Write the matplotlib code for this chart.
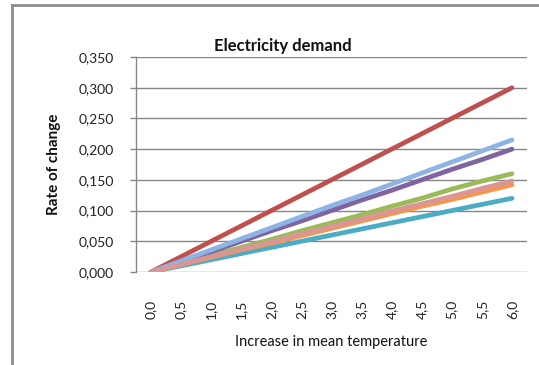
import matplotlib
matplotlib.use("Agg")
import matplotlib.pyplot as plt
from matplotlib.lines import Line2D

plt.rcParams['font.family'] = ['Lato', 'DejaVu Sans']

# Temperature increase categories (°C steps)
temperature = ["0,0", "0,5", "1,0", "1,5", "2,0", "2,5", "3,0",
               "3,5", "4,0", "4,5", "5,0", "5,5", "6,0"]

# Rate of change of electricity demand for each scenario
series_red = [0.000, 0.025, 0.050, 0.075, 0.100, 0.125, 0.150,
              0.175, 0.200, 0.225, 0.250, 0.275, 0.300]
series_green = [0.000, 0.013, 0.027, 0.040, 0.053, 0.067, 0.080,
                0.093, 0.107, 0.120, 0.135, 0.148, 0.160]
series_purple = [0.000, 0.017, 0.033, 0.050, 0.067, 0.083, 0.100,
                 0.117, 0.133, 0.150, 0.167, 0.183, 0.200]
series_teal = [0.000, 0.010, 0.020, 0.030, 0.040, 0.050, 0.060,
               0.070, 0.080, 0.090, 0.100, 0.110, 0.120]
series_orange = [0.000, 0.012, 0.024, 0.036, 0.047, 0.059, 0.071,
                 0.083, 0.095, 0.107, 0.118, 0.130, 0.142]
series_lightblue = [0.000, 0.018, 0.036, 0.054, 0.072, 0.090, 0.108,
                    0.125, 0.143, 0.161, 0.179, 0.197, 0.215]
series_pink = [0.000, 0.012, 0.025, 0.037, 0.049, 0.062, 0.074,
               0.086, 0.099, 0.111, 0.123, 0.136, 0.148]

y_ticks = [0.0, 0.05, 0.10, 0.15, 0.20, 0.25, 0.30, 0.35]

W, H = 539, 365
fig = plt.figure(figsize=(W / 100, H / 100), dpi=100)
fig.patch.set_facecolor("white")

# outer chart frame (top and left edges visible)
frame_col = "#8c8c8c"
fig.add_artist(Line2D([12 / W, 1.0], [1 - 5 / H, 1 - 5 / H],
                      transform=fig.transFigure, color=frame_col, lw=2.0))
fig.add_artist(Line2D([12 / W, 12 / W], [0.0, 1 - 5 / H],
                      transform=fig.transFigure, color=frame_col, lw=2.0))

left, right = 136 / W, 527 / W
bottom, top = 1 - 272 / H, 1 - 57 / H
ax = fig.add_axes([left, bottom, right - left, top - bottom])

x = list(range(len(temperature)))
lw = 3.4
series = [
    (series_red, "#c0504d"),
    (series_green, "#9bbb59"),
    (series_purple, "#8064a2"),
    (series_teal, "#4bacc6"),
    (series_orange, "#f79646"),
    (series_lightblue, "#8eb4e3"),
    (series_pink, "#d99694"),
]
for vals, col in series:
    ax.plot(x, vals, color=col, lw=lw, solid_capstyle="round",
            solid_joinstyle="round", zorder=3)

ax.set_xlim(-0.5, len(temperature) - 0.5)
ax.set_ylim(0, 0.35)
ax.set_yticks(y_ticks)
ax.set_yticklabels([f"{v:.3f}".replace(".", ",") for v in y_ticks])
ax.set_xticks(x)
ax.set_xticklabels(temperature, rotation=90)

grid_col = "#868686"
ax.yaxis.grid(True, color=grid_col, lw=1.0, zorder=1)
ax.set_axisbelow(True)
for s in ["top", "right", "bottom"]:
    ax.spines[s].set_visible(False)
ax.spines["left"].set_color(grid_col)
ax.spines["left"].set_linewidth(1.0)

ax.tick_params(axis="y", direction="out", length=4, width=1.0,
               color=grid_col, pad=12, labelsize=10, labelcolor="#222222")
ax.tick_params(axis="x", length=0, pad=20, labelsize=10, labelcolor="#222222")

ax.set_ylabel("Rate of change", fontsize=11, fontweight="bold",
              color="#111111")
ax.yaxis.set_label_coords(-(136 - 61) / (527 - 136), 0.5)
ax.set_xlabel("Increase in mean temperature", fontsize=10.5, color="#111111")
ax.xaxis.set_label_coords(0.5, -(335 - 272) / (272 - 57))

fig.text(283 / W, 1 - 46 / H, "Electricity demand", ha="center",
         va="center", fontsize=12, fontweight="bold", color="#111111")

fig.savefig("out.png", dpi=100, facecolor="white")
